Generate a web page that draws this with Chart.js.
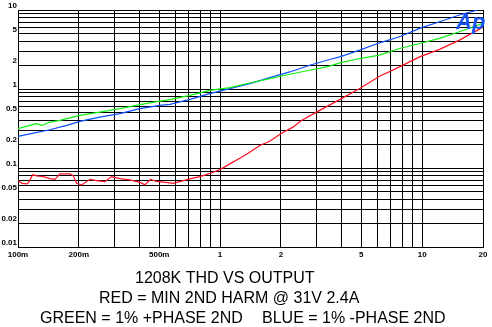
<!DOCTYPE html>
<html>
<head>
<meta charset="utf-8">
<script src="https://cdn.jsdelivr.net/npm/chart.js@4"></script>
<style>
body{margin:0;background:#fff;}
</style>
</head>
<body>
<canvas id="thdChart" width="492" height="327"></canvas>
<script>
// data (x = output, y = THD %)
const redX=[0.1,0.1047,0.1104,0.1129,0.1182,0.1237,0.1334,0.1439,0.1523,0.1613,0.1807,0.1877,0.1951,0.2065,0.227,0.2449,0.2692,0.2905,0.3193,0.3578,0.401,0.4245,0.4529,0.485,0.5534,0.5856,0.6322,0.7086,0.7938,0.8568,0.9234,1.0,1.117,1.252,1.402,1.571,1.761,2.012,2.296,2.526,3.11,3.906,4.905,6.157,7.73,9.71,12.19,15.3,19.9];
const redY=[0.0692,0.0639,0.0628,0.0658,0.0824,0.0794,0.0778,0.0733,0.0718,0.0841,0.0841,0.0801,0.0639,0.0610,0.0718,0.0692,0.0672,0.0778,0.0733,0.0706,0.0658,0.0615,0.0718,0.0678,0.0652,0.0639,0.0672,0.0727,0.0778,0.0824,0.0882,0.0954,0.1128,0.1329,0.1583,0.1926,0.2184,0.276,0.3291,0.4002,0.5363,0.7335,1.012,1.45,1.905,2.55,3.17,4.16,6.03];

const greenX=[0.1,0.1146,0.1237,0.131,0.1439,0.1613,0.2025,0.254,0.3193,0.401,0.5035,0.5647,0.7086,0.8895,1.117,1.402,1.761,2.211,2.776,3.485,3.906,4.905,6.157,7.73,9.71,12.19,15.3,19.9];
const greenY=[0.315,0.3457,0.3634,0.3457,0.3808,0.4002,0.4634,0.5102,0.5636,0.6335,0.7037,0.7335,0.8317,0.9627,1.042,1.192,1.356,1.538,1.729,1.945,2.139,2.43,2.68,3.26,3.77,4.37,5.30,6.77];

const blueX=[0.1,0.119,0.1439,0.174,0.2025,0.254,0.3193,0.401,0.5035,0.5647,0.7086,0.8895,1.117,1.402,1.761,2.211,2.776,3.485,3.906,4.905,6.157,7.73,9.71,12.19,15.3,18.79,20];
const blueY=[0.2506,0.276,0.3049,0.3457,0.3887,0.4406,0.4869,0.5636,0.6206,0.639,0.7399,0.874,1.012,1.171,1.396,1.644,2.0,2.363,2.55,3.104,3.844,4.58,5.85,7.10,8.64,10,10.6];

// grid lines and labelled ticks
const xGrid=[0.1,0.2,0.3,0.4,0.5,0.6,0.7,0.8,0.9,1,2,3,4,5,6,7,8,9,10,20];
const yGrid=[0.01,0.02,0.03,0.04,0.05,0.06,0.07,0.08,0.09,0.1,0.2,0.3,0.4,0.5,0.6,0.7,0.8,0.9,1,2,3,4,5,6,7,8,9,10];
const xTickValues=[0.1,0.2,0.5,1,2,5,10,20];
const xTickLabels=["100m","200m","500m","1","2","5","10","20"];
const yTickValues=[0.01,0.02,0.05,0.1,0.2,0.5,1,2,5,10];
const yTickLabels=["0.01","0.02","0.05","0.1","0.2","0.5","1","2","5","10"];

const titleLines=["1208K THD VS OUTPUT","RED = MIN 2ND HARM @ 31V 2.4A","GREEN = 1% +PHASE 2ND","BLUE = 1% -PHASE 2ND"];
const logoText="Ap";

function pts(xs,ys){
    return xs.map((x,i)=>({x:x,y:ys[i]}));
}

function series(xs,ys,color){
    return {
        data:pts(xs,ys),
        showLine:true,
        borderColor:color,
        backgroundColor:color,
        borderWidth:1.2,
        pointRadius:0,
        tension:0
    };
}

// captions under the plot + the AP logo
const captions={
    id:"captions",
    afterDraw(chart){
        const ctx=chart.ctx;
        ctx.save();
        ctx.fillStyle="#000";
        ctx.textAlign="left";
        ctx.textBaseline="alphabetic";
        ctx.font='16px "Liberation Sans", Arial, sans-serif';
        ctx.fillText(titleLines[0],135,282.5);
        ctx.fillText(titleLines[1],99,302.5);
        ctx.fillText(titleLines[2],40,323);
        ctx.fillText(titleLines[3],262,323);

        ctx.fillStyle="#1a55f2";
        ctx.font='italic bold 22px "Liberation Sans", Arial, sans-serif';
        ctx.fillText(logoText,456,29);
        ctx.restore();
    }
};

const tickFont={family:'"Liberation Sans", Arial, sans-serif',size:8,weight:"bold"};

new Chart(document.getElementById("thdChart"),{
    type:"scatter",
    data:{
        datasets:[
            series(redX,redY,"#ff1020"),
            series(greenX,greenY,"#10f010"),
            series(blueX,blueY,"#0a50ff")
        ]
    },
    options:{
        responsive:false,
        animation:false,
        devicePixelRatio:1,
        layout:{padding:{top:10,right:9,left:0,bottom:0}},
        plugins:{legend:{display:false},tooltip:{enabled:false}},
        scales:{
            x:{
                type:"logarithmic",
                min:0.1,
                max:20,
                afterBuildTicks:s=>{ s.ticks=xGrid.map(v=>({value:v})); },
                afterFit:s=>{ s.height=80; },
                grid:{color:"#000",lineWidth:1,drawTicks:false},
                border:{color:"#000",width:1},
                ticks:{
                    autoSkip:false,
                    maxRotation:0,
                    padding:3,
                    color:"#000",
                    font:tickFont,
                    callback:v=>{
                        const i=xTickValues.indexOf(v);
                        return i>=0 ? xTickLabels[i] : "";
                    }
                }
            },
            y:{
                type:"logarithmic",
                min:0.01,
                max:10,
                afterBuildTicks:s=>{ s.ticks=yGrid.map(v=>({value:v})); },
                afterFit:s=>{ s.width=18; },
                grid:{color:"#000",lineWidth:1,drawTicks:false},
                border:{color:"#000",width:1},
                ticks:{
                    autoSkip:false,
                    padding:1,
                    labelOffset:-4,
                    color:"#000",
                    font:tickFont,
                    callback:v=>{
                        const i=yTickValues.indexOf(v);
                        return i>=0 ? yTickLabels[i] : "";
                    }
                }
            }
        }
    },
    plugins:[captions]
});
</script>
</body>
</html>
